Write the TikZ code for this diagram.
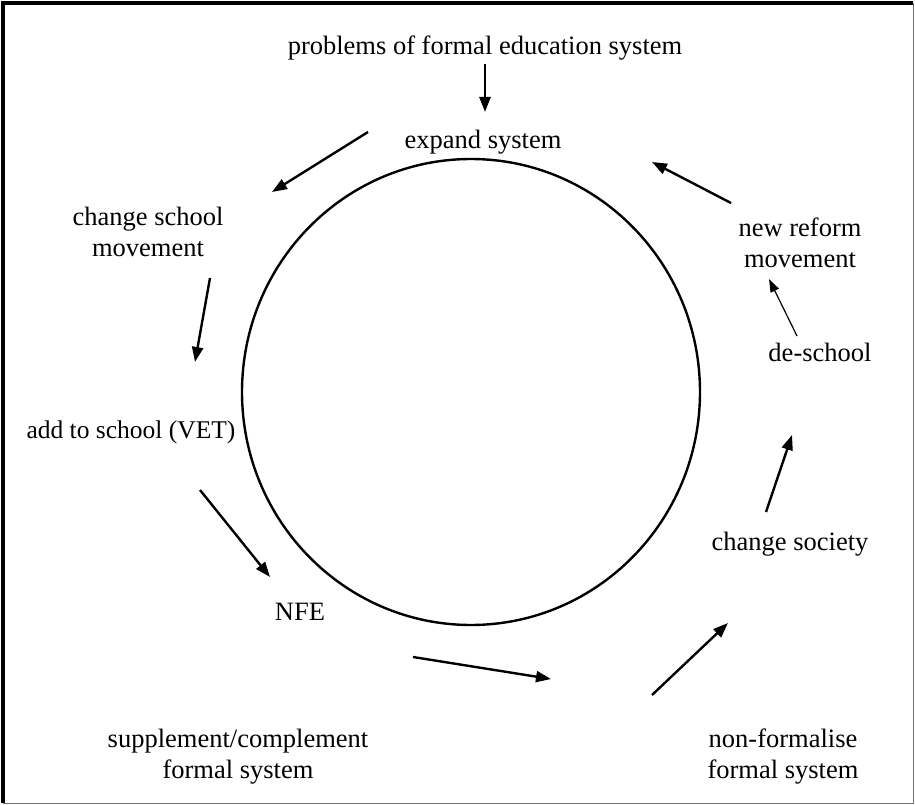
\documentclass[tikz,border=0pt]{standalone}
\usepackage{fontspec}
\setmainfont{Liberation Serif}
\usetikzlibrary{arrows.meta}
\begin{document}
\begin{tikzpicture}[x=1pt,y=-1pt,
  lbl/.style={font=\fontsize{26.5}{31}\selectfont, align=center, inner sep=0pt},
  arr/.style={line width=2.4pt, -{Triangle[length=15pt,width=11pt]}},
  thinarr/.style={line width=1.2pt, -{Triangle[length=13pt,width=9pt]}}]
\useasboundingbox (0,0) rectangle (915,805);
\draw[line width=3.5pt] (3,803) -- (3,3) -- (913,3);
\draw[line width=0.8pt, black!55] (913,3) -- (913,803) -- (3,803);
\draw[line width=2.4pt] (471,392) ellipse [x radius=229pt, y radius=233pt];
\node[lbl] (prob) at (485,48) {problems of formal education system};
\node[lbl] (exp) at (483,142) {expand system};
\node[lbl] (chg) at (148,232) {change school\\movement};
\node[lbl, font=\fontsize{25.5}{31}\selectfont] (add) at (131,432) {add to school (VET)};
\node[lbl] (nfe) at (300,612) {NFE};
\node[lbl] (sup) at (238,757) {supplement/complement\\formal system};
\node[lbl] (nonf) at (783,757) {non-formalise\\formal system};
\node[lbl] (soc) at (790,544) {change society};
\node[lbl] (desch) at (820,352) {de-school};
\node[lbl] (newr) at (800,243) {new reform\\movement};
\coordinate (a1s) at (485,64);  \coordinate (a1e) at (485,112);
\coordinate (a2s) at (368,132); \coordinate (a2e) at (272,192);
\coordinate (a3s) at (210,278); \coordinate (a3e) at (195,362);
\coordinate (a4s) at (200,490); \coordinate (a4e) at (270,577);
\coordinate (a5s) at (413,657); \coordinate (a5e) at (551,679);
\coordinate (a6s) at (652,695); \coordinate (a6e) at (728,623);
\coordinate (a7s) at (766,512); \coordinate (a7e) at (792,435);
\coordinate (a8s) at (797,336); \coordinate (a8e) at (769,279);
\coordinate (a9s) at (731,203); \coordinate (a9e) at (652,162);
\draw[arr] (a1s) -- (a1e);
\draw[arr] (a2s) -- (a2e);
\draw[arr] (a3s) -- (a3e);
\draw[arr] (a4s) -- (a4e);
\draw[arr] (a5s) -- (a5e);
\draw[arr] (a6s) -- (a6e);
\draw[arr] (a7s) -- (a7e);
\draw[thinarr] (a8s) -- (a8e);
\draw[arr] (a9s) -- (a9e);
\end{tikzpicture}
\end{document}
